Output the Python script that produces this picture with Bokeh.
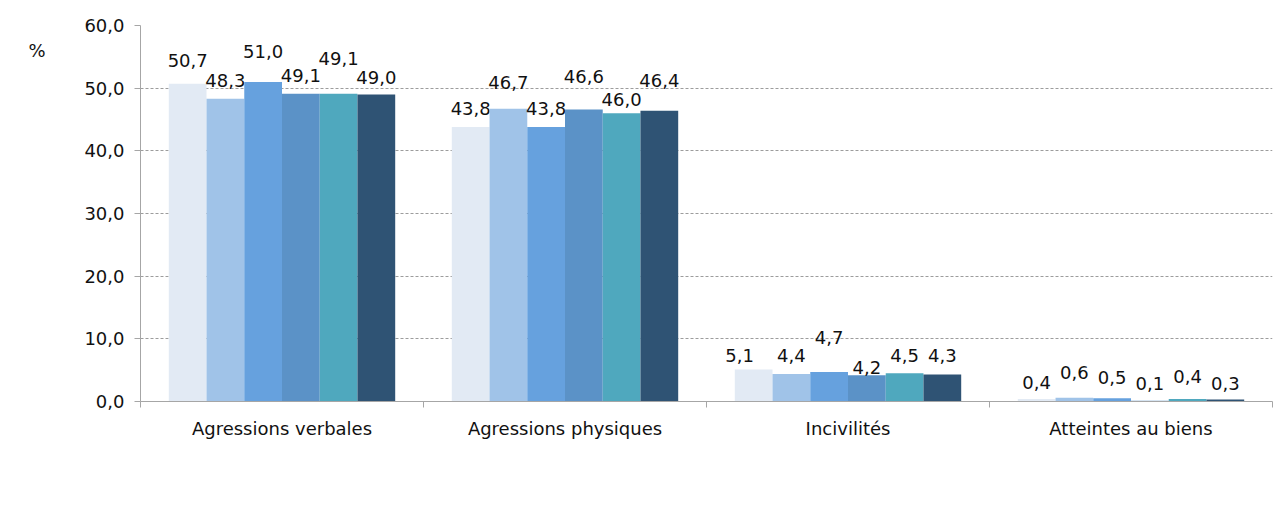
from bokeh.plotting import figure
from bokeh.models import (Range1d, FixedTicker, CustomJSTickFormatter, Legend, LegendItem,
                          LinearAxis, ColumnDataSource)
from bokeh.core.properties import value
from bokeh.embed import file_html
from bokeh.resources import INLINE

# ---------------- data ----------------
categories = ["Agressions verbales", "Agressions physiques", "Incivilités", "Atteintes au biens"]
series = ["Saison 2006-2007", "Saison 2007-2008", "Saison 2008-2009",
          "Saison 2009-2010", "Saison 2010-2011", "Saison 2011-2012"]
s2006_2007 = [50.7, 43.8, 5.1, 0.4]
s2007_2008 = [48.3, 46.7, 4.4, 0.6]
s2008_2009 = [51.0, 43.8, 4.7, 0.5]
s2009_2010 = [49.1, 46.6, 4.2, 0.1]
s2010_2011 = [49.1, 46.0, 4.5, 0.4]
s2011_2012 = [49.0, 46.4, 4.3, 0.3]
y_ticks = [0, 10, 20, 30, 40, 50, 60]
y_tick_labels = ["0,0", "10,0", "20,0", "30,0", "40,0", "50,0", "60,0"]
unit_label = "%"

values = [s2006_2007, s2007_2008, s2008_2009, s2009_2010, s2010_2011, s2011_2012]

# ---------------- style / layout ----------------
colors = ["#E2EAF4", "#A0C3E8", "#66A1DE", "#5B92C7", "#4FA8BE", "#2F5374"]
# data label pixel offsets (Excel's collision-avoided placement), per series, per category
label_dy = [
    [-23, -18.5, -14, -16.5],
    [-18, -26, -18, -25],
    [-30, -18.5, -35, -21],
    [-18, -33, -8, -17.5],
    [-35, -14, -18, -22.5],
    [-17, -30, -19, -16],
]
label_dx = [
    [0, 0, -14, 0],
    [0, 0, 0, 0],
    [0, 0, 0, 0],
    [0, 0, 0, 0],
    [0, 0, 0, 0],
    [0, 0, 0, 0],
]
FONT = "DejaVu Sans"
FS = "18px"
TXT = "#111111"
AXIS_COLOR = "#a6a6a6"
UNIT_POS = 56.0  # vertical position of the "%" unit label, in axis units

n_cat = len(categories)
n_ser = len(series)
group_frac = 0.8
bw = group_frac / n_ser

p = figure(frame_width=1132, frame_height=376, output_backend="svg", toolbar_location=None,
           x_range=Range1d(0, n_cat), y_range=Range1d(0, 60),
           min_border_left=140, min_border_top=25, min_border_right=10, min_border_bottom=111)
p.outline_line_color = None
p.background_fill_color = "white"
p.border_fill_color = "white"

legend_items = []
for j in range(n_ser):
    xs = [i + 0.5 + (j - (n_ser - 1) / 2) * bw for i in range(n_cat)]
    src = ColumnDataSource(dict(x=xs, top=values[j],
                                lab=[f"{v:.1f}".replace(".", ",") for v in values[j]],
                                dy=label_dy[j], dx=label_dx[j]))
    r = p.vbar(x="x", top="top", width=bw, bottom=0, source=src,
               fill_color=colors[j], line_color=None)
    legend_items.append(LegendItem(label=series[j], renderers=[r]))
    p.text(x="x", y="top", text="lab", x_offset="dx", y_offset="dy", source=src,
           text_align="center", text_baseline="middle",
           text_font=value(FONT), text_font_size=value(FS), text_color=TXT)

# grid
p.xgrid.grid_line_color = None
p.ygrid.grid_line_color = "#9c9c9c"
p.ygrid.grid_line_dash = "3 2"
p.ygrid.grid_line_width = 1

# y axis
p.yaxis.ticker = FixedTicker(ticks=y_ticks)
p.yaxis.formatter = CustomJSTickFormatter(args=dict(labs=y_tick_labels),
                                          code="return labs[Math.round(tick/10)];")
p.yaxis.axis_line_color = AXIS_COLOR
p.yaxis.major_tick_line_color = AXIS_COLOR
p.yaxis.major_tick_out = 6
p.yaxis.major_tick_in = 0
p.yaxis.minor_tick_line_color = None
p.yaxis.major_label_standoff = 10
p.yaxis.major_label_text_font = FONT
p.yaxis.major_label_text_font_size = FS
p.yaxis.major_label_text_color = TXT

# "%" unit label as an extra, line-less left axis
unit_axis = LinearAxis(ticker=FixedTicker(ticks=[UNIT_POS]),
                       formatter=CustomJSTickFormatter(args=dict(u=unit_label), code="return u;"),
                       axis_line_color=None, major_tick_line_color=None,
                       minor_tick_line_color=None, major_tick_out=0, major_tick_in=0,
                       major_label_standoff=36, major_label_text_font=FONT,
                       major_label_text_font_size=FS, major_label_text_color=TXT)
p.add_layout(unit_axis, "left")

# x axis
p.xaxis.ticker = FixedTicker(ticks=[i + 0.5 for i in range(n_cat)],
                             minor_ticks=list(range(n_cat + 1)))
p.xaxis.formatter = CustomJSTickFormatter(args=dict(cats=categories),
                                          code="return cats[Math.floor(tick)] || '';")
p.xaxis.axis_line_color = AXIS_COLOR
p.xaxis.major_tick_line_color = None
p.xaxis.major_tick_out = 0
p.xaxis.major_tick_in = 0
p.xaxis.minor_tick_line_color = AXIS_COLOR
p.xaxis.minor_tick_out = 6
p.xaxis.minor_tick_in = 0
p.xaxis.major_label_standoff = 10
p.xaxis.major_label_text_font = FONT
p.xaxis.major_label_text_font_size = FS
p.xaxis.major_label_text_color = TXT
# small blank axis label used only as a spacer above the legend
p.xaxis.axis_label = " "
p.xaxis.axis_label_standoff = 0
p.xaxis.axis_label_text_font_size = "8px"

legend = Legend(items=legend_items, orientation="horizontal", location="top_center",
                label_text_font=FONT, label_text_font_size=FS, label_text_color=TXT,
                glyph_width=11, glyph_height=11, label_standoff=3, spacing=13,
                padding=0, margin=0, border_line_color=None, background_fill_alpha=0)
p.add_layout(legend, "below")

open("out.html", "w").write(file_html(p, INLINE))
